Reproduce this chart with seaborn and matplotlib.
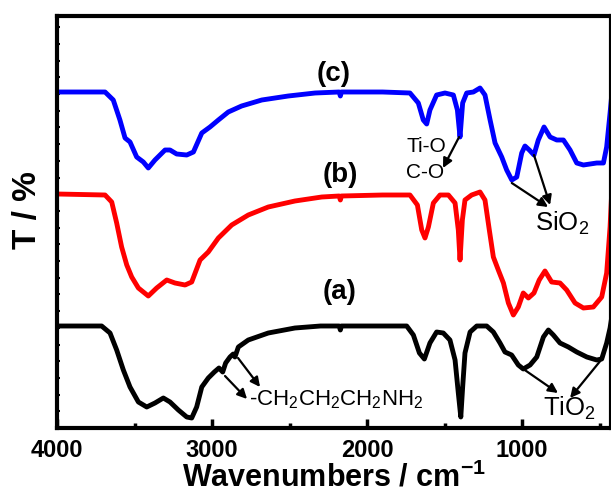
import numpy as np
import matplotlib
matplotlib.use("Agg")
import matplotlib.pyplot as plt
import seaborn as sns

sns.set_style("ticks")
plt.rcParams['font.family'] = ['Liberation Sans', 'DejaVu Sans']
plt.rcParams['mathtext.fontset'] = 'custom'
plt.rcParams['mathtext.rm'] = 'Liberation Sans'
plt.rcParams['mathtext.bf'] = 'Liberation Sans:bold'
for key in ['text.color', 'axes.labelcolor', 'xtick.color', 'ytick.color', 'axes.edgecolor']:
    plt.rcParams[key] = 'black'

# FTIR spectra, wavenumber (cm-1) vs transmittance (arb. units, offset)
wn_a = [4000, 3712, 3658, 3615, 3572, 3529, 3475, 3421, 3368, 3314, 3271, 3217, 3163, 3131,
        3099, 3066, 3024, 2985, 2955, 2931, 2912, 2884, 2863, 2852, 2830, 2766, 2637, 2465,
        2300, 2180, 2172, 2165, 1900, 1744, 1701, 1662, 1630, 1594, 1551, 1508, 1465, 1432,
        1411, 1395, 1383, 1368, 1335, 1292, 1228, 1185, 1142, 1110, 1067, 1024, 992, 948,
        905, 862, 830, 798, 755, 701, 647, 582, 518, 486, 454, 432, 420]
t_a = [102, 102, 95, 78, 58, 41, 26, 21, 25, 30, 26, 18, 11, 10,
       21, 41, 50, 56, 60, 56, 65, 71, 74, 71, 81, 88, 95, 100,
       102, 102, 98, 102, 102, 102, 93, 75, 69, 85, 96, 95, 88, 68,
       35, 11, 41, 75, 96, 102, 102, 96, 85, 76, 73, 63, 59, 63,
       71, 91, 98, 93, 85, 81, 76, 71, 68, 69, 85, 100, 112]

wn_b = [4000, 3690, 3647, 3615, 3583, 3550, 3518, 3475, 3411, 3357, 3292, 3239, 3174, 3131,
        3077, 3024, 2959, 2873, 2766, 2637, 2465, 2292, 2180, 2172, 2165, 1900, 1723, 1675,
        1647, 1626, 1604, 1572, 1529, 1475, 1432, 1411, 1400, 1385, 1368, 1325, 1271, 1239,
        1211, 1185, 1153, 1120, 1088, 1056, 1024, 992, 959, 923, 889, 852, 809, 755, 712,
        658, 604, 540, 486, 454, 432, 420]
t_b = [234, 233, 226, 205, 181, 163, 151, 140, 132, 140, 148, 145, 143, 146,
       168, 176, 190, 203, 213, 221, 227, 231, 232, 228, 232, 233, 233, 223,
       198, 190, 201, 225, 233, 233, 225, 198, 168, 208, 228, 233, 236, 228,
       198, 171, 158, 145, 125, 113, 121, 135, 130, 135, 148, 157, 146, 145, 138,
       125, 120, 121, 131, 155, 201, 240]

wn_c = [4000, 3690, 3637, 3594, 3561, 3529, 3486, 3443, 3411, 3368, 3303, 3271, 3228, 3163,
        3120, 3066, 3013, 2959, 2895, 2809, 2679, 2508, 2335, 2180, 2172, 2165, 1900, 1723,
        1669, 1637, 1615, 1594, 1551, 1497, 1443, 1417, 1400, 1383, 1357, 1314, 1271, 1239,
        1206, 1174, 1131, 1099, 1066, 1034, 1002, 981, 953, 923, 895, 858, 819, 776, 733,
        690, 647, 604, 518, 475, 454, 432, 420]
t_c = [336, 336, 328, 308, 290, 286, 271, 266, 260, 268, 278, 278, 274, 273,
       276, 295, 301, 308, 316, 322, 328, 332, 335, 336, 332, 336, 336, 335,
       325, 308, 304, 318, 333, 335, 333, 318, 291, 325, 335, 336, 340, 333,
       308, 285, 271, 258, 248, 251, 275, 282, 278, 273, 288, 301, 291, 288, 288,
       278, 265, 263, 265, 265, 281, 315, 335]

x_ticks = [4000, 3000, 2000, 1000]
x_minor = [3500, 2500, 1500, 500]


def t_at(wn, t, w):
    return np.interp(w, wn[::-1], t[::-1])


fig = plt.figure(figsize=(6.11, 4.95), dpi=100)
ax = fig.add_axes([57 / 611, 67 / 495, 1 - 57 / 611, 412 / 495])

for wn, t, col in [(wn_a, t_a, 'black'), (wn_b, t_b, 'red'), (wn_c, t_c, 'blue')]:
    sns.lineplot(x=wn, y=t, color=col, lw=3.5, ax=ax, estimator=None, sort=False)
for ln in ax.lines:
    ln.set_solid_joinstyle('round')
    ln.set_solid_capstyle('round')

ax.set_xlim(4000, 426)
ax.set_ylim(0, 412)
ax.set_xticks(x_ticks)
ax.set_xticks(x_minor, minor=True)
ax.set_yticks(np.arange(0, 412, 16.7))
ax.set_yticklabels([])
ax.tick_params(axis='x', which='major', direction='in', length=6.5, width=2.5, pad=8,
               labelsize=17)
ax.tick_params(axis='x', which='minor', direction='in', length=3.5, width=2.5)
ax.tick_params(axis='y', direction='in', length=2, width=1.5)
for lab in ax.get_xticklabels():
    lab.set_fontweight('bold')
for sp in ax.spines.values():
    sp.set_linewidth(3)
    sp.set_visible(True)

ax.set_xlabel(r'Wavenumbers / cm$\mathbf{^{-1}}$', fontsize=22, fontweight='bold', labelpad=0)
ax.set_ylabel('T / %', fontsize=24, fontweight='bold')
ax.yaxis.label.set_va('center')
ax.yaxis.set_label_coords(-0.054, 0.53)

# curve labels
ax.text(2213, 354, '(c)', fontsize=20, fontweight='bold', ha='center', va='center')
ax.text(2174, 253, '(b)', fontsize=20, fontweight='bold', ha='center', va='center')
ax.text(2174, 136, '(a)', fontsize=20, fontweight='bold', ha='center', va='center')

arrow = dict(arrowstyle='-|>', color='black', lw=1.6, mutation_scale=14, shrinkA=0, shrinkB=0)

# Ti-O-C ring
ax.text(1748, 282, 'Ti-O', fontsize=15, ha='left', va='center')
ax.text(1748, 256, 'C-O', fontsize=15, ha='left', va='center')
ax.annotate('', xy=(1674, 265), xytext=(1674, 273), arrowprops=dict(arrowstyle='-', lw=1.2))
ax.annotate('', xy=(1545, 265), xytext=(1545, 272), arrowprops=dict(arrowstyle='-', lw=1.2))
ax.annotate('', xy=(1510, 260), xytext=(1406, t_at(wn_c, t_c, 1400)), arrowprops=arrow)

# SiO2
ax.text(916, 205, r'SiO$_2$', fontsize=18.5, ha='left', va='center')
ax.annotate('', xy=(832, 221), xytext=(1066, t_at(wn_c, t_c, 1066) - 3), arrowprops=arrow)
ax.annotate('', xy=(819, 223), xytext=(923, t_at(wn_c, t_c, 923)), arrowprops=arrow)

# TiO2
ax.text(864, 20, r'TiO$_2$', fontsize=18.5, ha='left', va='center')
ax.annotate('', xy=(768, 35), xytext=(994, t_at(wn_a, t_a, 994)), arrowprops=arrow)
ax.annotate('', xy=(690, 30), xytext=(477, t_at(wn_a, t_a, 477) - 3), arrowprops=arrow)

# propylamine chain
ax.text(2761, 28, r'-CH$_2$CH$_2$CH$_2$NH$_2$', fontsize=16, ha='left', va='center')
ax.annotate('', xy=(2774, 29), xytext=(2916, 52), arrowprops=arrow)
ax.annotate('', xy=(2690, 41), xytext=(2832, 70), arrowprops=arrow)

fig.savefig('out.png', dpi=100)
